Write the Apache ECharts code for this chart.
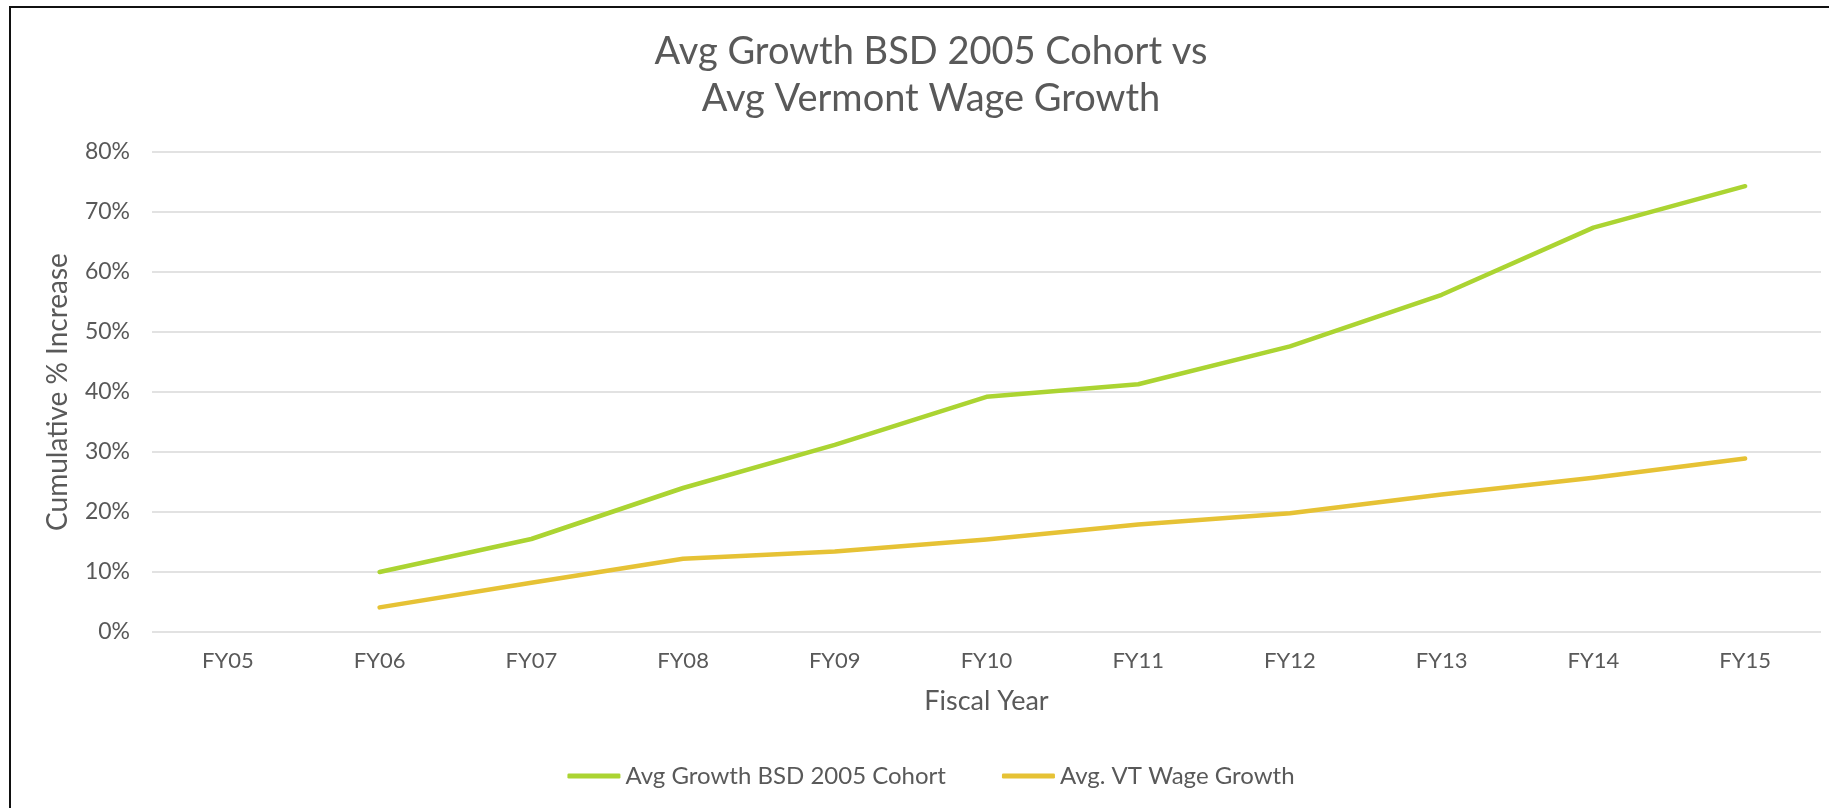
<!DOCTYPE html>
<html>
<head>
<meta charset="utf-8">
<script src="https://cdn.jsdelivr.net/npm/echarts@6/dist/echarts.min.js"></script>
<style>
	html, body { margin: 0; padding: 0; background: #fff; overflow: hidden; }
	#frame { position: absolute; left: 9px; top: 6px; width: 1900px; height: 900px; border: 2px solid #111; }
	#main { position: absolute; left: 0; top: 0; width: 1862px; height: 808px; }
</style>
</head>
<body>
<div id="frame"></div>
<div id="main"></div>
<script>
// fiscal years on the x axis
const years = ['FY05','FY06','FY07','FY08','FY09','FY10','FY11','FY12','FY13','FY14','FY15'];
// cumulative % increase (FY05 has no point)
const bsdCohort = [null, 10.0, 15.5, 24.0, 31.2, 39.2, 41.3, 47.6, 56.2, 67.4, 74.3];
const vtWage = [null, 4.1, 8.2, 12.2, 13.4, 15.4, 17.9, 19.8, 22.9, 25.7, 28.9];
const seriesNames = ['Avg Growth BSD 2005 Cohort', 'Avg. VT Wage Growth'];

const font = "'Century Gothic', Lato, 'DejaVu Sans', sans-serif";
const grey = '#595959';

let myChart = echarts.init(document.getElementById('main'));
let option = {
	title: {
		text: 'Avg Growth BSD 2005 Cohort vs\nAvg Vermont Wage Growth',
		left: 'center',
		top: 23,
		textStyle: {
			fontFamily: font,
			fontWeight: 'normal',
			fontSize: 38,
			lineHeight: 47,
			color: grey
		}
	},
	legend: {
		data: seriesNames,
		left: 'center',
		top: 759,
		icon: 'roundRect',
		itemWidth: 53,
		itemHeight: 5,
		itemGap: 56,
		textStyle: { fontFamily: font, fontSize: 24, color: grey }
	},
	grid: { left: 152, right: 41, top: 152, bottom: 176 },
	xAxis: {
		type: 'category',
		data: years,
		boundaryGap: true,
		name: 'Fiscal Year',
		nameLocation: 'middle',
		nameGap: 56,
		nameTextStyle: { fontFamily: font, fontSize: 27, color: grey },
		axisLine: { show: false },
		axisTick: { show: false },
		axisLabel: { fontFamily: font, fontSize: 22, color: grey, margin: 18 }
	},
	yAxis: {
		type: 'value',
		min: 0,
		max: 80,
		interval: 10,
		name: 'Cumulative % Increase',
		nameLocation: 'middle',
		nameGap: 80,
		nameTextStyle: { fontFamily: font, fontSize: 28, color: grey },
		axisLine: { show: false },
		axisTick: { show: false },
		axisLabel: { fontFamily: font, fontSize: 23, color: grey, margin: 22, formatter: '{value}%' },
		splitLine: { lineStyle: { color: '#d9d9d9', width: 1.5 } }
	},
	series: [
		{
			name: seriesNames[0],
			type: 'line',
			data: bsdCohort,
			showSymbol: false,
			color: '#abd432',
			lineStyle: { width: 4.5, cap: 'round', join: 'round' }
		},
		{
			name: seriesNames[1],
			type: 'line',
			data: vtWage,
			showSymbol: false,
			color: '#e6c235',
			lineStyle: { width: 4.5, cap: 'round', join: 'round' }
		}
	]
};
myChart.setOption(option);
</script>
</body>
</html>
